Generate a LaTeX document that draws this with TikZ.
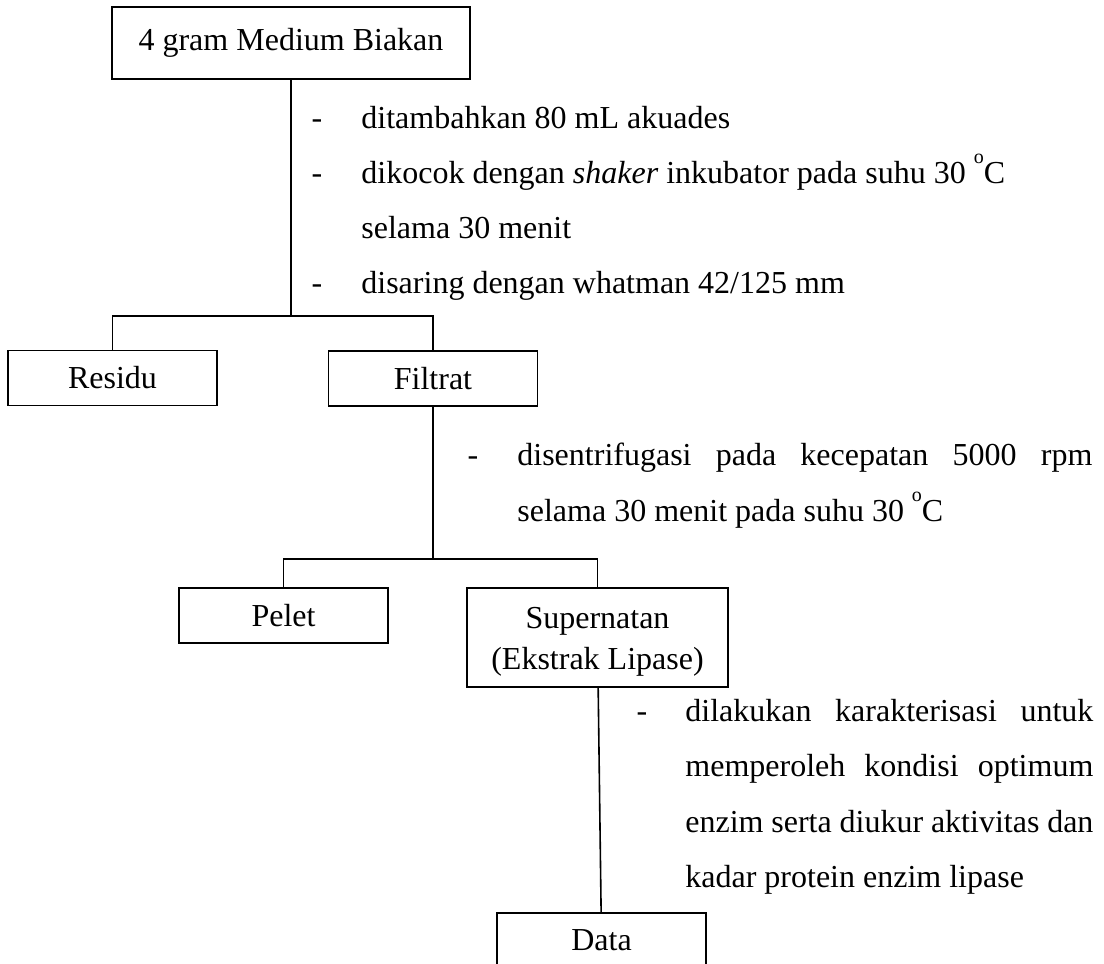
\documentclass[tikz,border=0pt]{standalone}
\usepackage{fontspec}
\setmainfont{Liberation Serif}
\usetikzlibrary{positioning}
\usetikzlibrary{calc}
\hyphenpenalty=10000
\exhyphenpenalty=10000
\newcommand{\degC}{\raisebox{0.62em}{\fontsize{10}{10}\selectfont o}C}
\tikzstyle{box}=[rectangle,draw=black,line width=0.8pt,minimum width=104.5pt,minimum height=27.5pt,inner sep=0pt,align=center,font=\fontsize{16}{20.5}\selectfont]
\tikzstyle{edge} = [draw,line width=0.8pt]
\tikzstyle{itemdash} = [inner sep=0pt,anchor=base,font=\fontsize{16}{27.5}\selectfont]
\tikzstyle{steptext} = [inner sep=0pt,anchor=base west,align=justify,font=\fontsize{16}{27.5}\selectfont]

\begin{document}
\begin{tikzpicture}[x=0.5pt,y=-0.5pt]
  \useasboundingbox (0,0) rectangle (1104,964);

  \node[box,minimum width=179pt,minimum height=36pt] (medium) at (291,43) {4 gram Medium Biakan};
  \foreach \pos/\name/\label in {{(112.5,378)/residu/Residu}, {(433,378.5)/filtrat/Filtrat}, {(283.5,615.5)/pelet/Pelet}, {(601.5,940.5)/data/Data}}
     \node[box] (\name) at \pos {\label};
  \node[box,minimum width=130.5pt,minimum height=49.5pt] (supernatan) at (597.5,637.5) {\rule{0pt}{15pt}Supernatan\\(Ekstrak Lipase)};

  \coordinate (fork1) at (291,316);
  \coordinate (fork2) at (433,559);
  \path[edge] (medium) -- (fork1);
  \path[edge] (residu.north) |- (fork1) -| (filtrat.north);
  \path[edge] (filtrat) -- (fork2);
  \path[edge] (pelet.north) |- (fork2) -| (supernatan.north);
  \path[edge] (supernatan) -- (data);

  % langkah setelah medium
  \foreach \y/\label in {128/{ditambahkan 80 mL akuades}, 183/{dikocok dengan \textit{shaker} inkubator pada suhu 30 \degC\\selama 30 menit}, 293/{disaring dengan whatman 42/125 mm}}
  {
     \node[itemdash] (dash\y) at (317,\y) {-};
     \node[steptext,text width=340pt] (step\y) at (361,\y) {\label};
  }

  % langkah setelah filtrat
  \node[itemdash] (dash465) at (473,465) {-};
  \node[steptext,text width=287.5pt,font=\fontsize{16}{28}\selectfont] (step465) at (517,465) {disentrifugasi pada kecepatan 5000 rpm selama 30 menit pada suhu 30 \degC};

  % langkah setelah supernatan
  \node[itemdash] (dash721) at (642,721) {-};
  \node[steptext,text width=204pt,font=\fontsize{16}{27.75}\selectfont] (step721) at (685,721) {dilakukan karakterisasi untuk memperoleh kondisi optimum enzim serta diukur aktivitas dan kadar protein enzim lipase};
\end{tikzpicture}
\end{document}
